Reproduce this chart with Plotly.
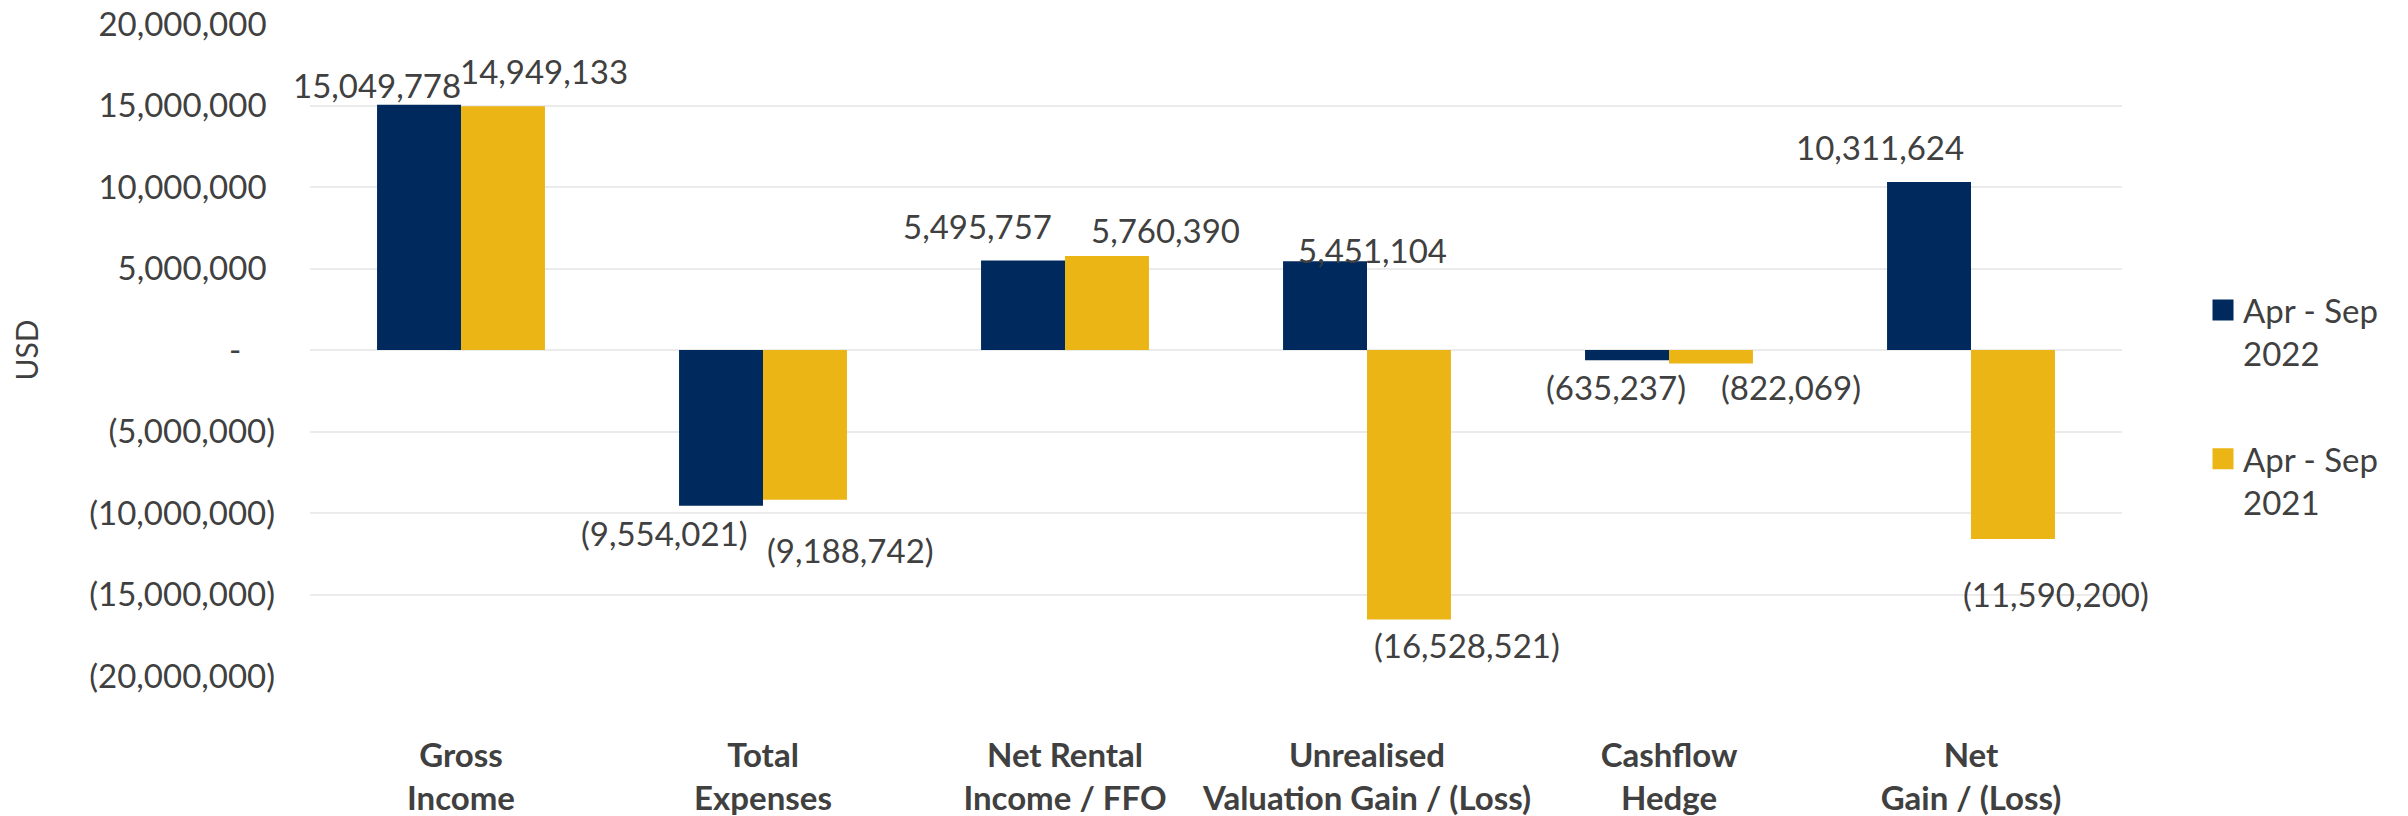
import plotly.graph_objects as go

# ---- data ----
categories = ["Gross<br>Income", "Total<br>Expenses", "Net Rental<br>Income / FFO",
              "Unrealised<br>Valuation Gain / (Loss)", "Cashflow<br>Hedge", "Net<br>Gain / (Loss)"]
series_2022_name = "Apr - Sep<br>2022"
series_2021_name = "Apr - Sep<br>2021"
values_2022 = [15049778, -9554021, 5495757, 5451104, -635237, 10311624]
values_2021 = [14949133, -9188742, 5760390, -16528521, -822069, -11590200]
tick_values = [20000000, 15000000, 10000000, 5000000, 0, -5000000, -10000000, -15000000, -20000000]
tick_labels = ["20,000,000", "15,000,000", "10,000,000", "5,000,000", "-",
               "(5,000,000)", "(10,000,000)", "(15,000,000)", "(20,000,000)"]

# ---- styles ----
NAVY = "#002A5E"
GOLD = "#ECB516"
TXT = "#404040"
FONT = "Lato"
FS = 33

# label placement offsets (pixels) relative to category centre / bar end
dx_2022 = [-84, -99, -88, 5, -53, -91]
dy_2022 = [20, -27, 34, 11, -27, 35]
dx_2021 = [83, 87, 100, 100, 122, 85]
dy_2021 = [35, -50, 26, -26, -24, -55]


def acct(v):
    return f"{v:,.0f}" if v >= 0 else f"({-v:,.0f})"


def pad_tick(t):
    if t == "-":
        return "-" + "\u00a0" * 4
    if t.startswith("("):
        return t
    return t + "\u00a0"


fig = go.Figure()
fig.add_trace(go.Bar(x=categories, y=values_2022, name=series_2022_name, showlegend=False,
                     marker=dict(color=NAVY, line=dict(width=0)), legendgroup="a"))
fig.add_trace(go.Bar(x=categories, y=values_2021, name=series_2021_name, showlegend=False,
                     marker=dict(color=GOLD, line=dict(width=0)), legendgroup="b"))
# legend entries (square swatches) for the two series
for nm, col, grp in ((series_2022_name, NAVY, "a"), (series_2021_name, GOLD, "b")):
    fig.add_trace(go.Scatter(x=[None], y=[None], mode="markers", name=nm, legendgroup=grp,
                             marker=dict(symbol="square", size=16, color=col,
                                         line=dict(width=5, color=col)),
                             hoverinfo="skip"))

annotations = []
for vals, dxs, dys in ((values_2022, dx_2022, dy_2022), (values_2021, dx_2021, dy_2021)):
    for c, v, dx, dy in zip(categories, vals, dxs, dys):
        annotations.append(dict(x=c, y=v, xref="x", yref="y", text=acct(v), showarrow=False,
                                xanchor="center", yanchor="middle", xshift=dx, yshift=dy,
                                font=dict(family=FONT, size=FS, color=TXT)))

W, H = 2400, 808
fig.update_layout(
    width=W, height=H,
    margin=dict(l=302, r=286, t=16, b=140, autoexpand=False),
    paper_bgcolor="white", plot_bgcolor="white",
    barmode="group", bargap=0.444, bargroupgap=0,
    font=dict(family=FONT, size=FS, color=TXT),
    showlegend=True,
    legend=dict(xref="container", yref="container", x=(2203 - 8) / W, y=1 - 274 / H,
                xanchor="left", yanchor="top", valign="top",
                traceorder="grouped", tracegroupgap=60, itemsizing="trace",
                font=dict(family=FONT, size=FS, color=TXT),
                bgcolor="rgba(0,0,0,0)"),
    annotations=annotations,
)
fig.update_yaxes(range=[-20000000, 20000000], tickvals=tick_values,
                 ticktext=[pad_tick(t) for t in tick_labels],
                 showgrid=True, gridcolor="#EBEBEB", gridwidth=1.5,
                 zeroline=True, zerolinecolor="#EBEBEB", zerolinewidth=1.5,
                 showline=False, ticks="", ticklabelstandoff=34, ticklabeloverflow="allow",
                 tickfont=dict(family=FONT, size=FS, color=TXT),
                 title=dict(text="USD", standoff=41, font=dict(family=FONT, size=30, color=TXT)),
                 automargin=False)
fig.update_xaxes(range=[-0.5, 5.5], autorange=False,
                 showgrid=False, showline=False, ticks="", ticklabelstandoff=57,
                 ticklabeloverflow="allow",
                 tickfont=dict(family=FONT, size=FS, color=TXT, weight="bold"),
                 automargin=False)

fig.write_html("out.html")
